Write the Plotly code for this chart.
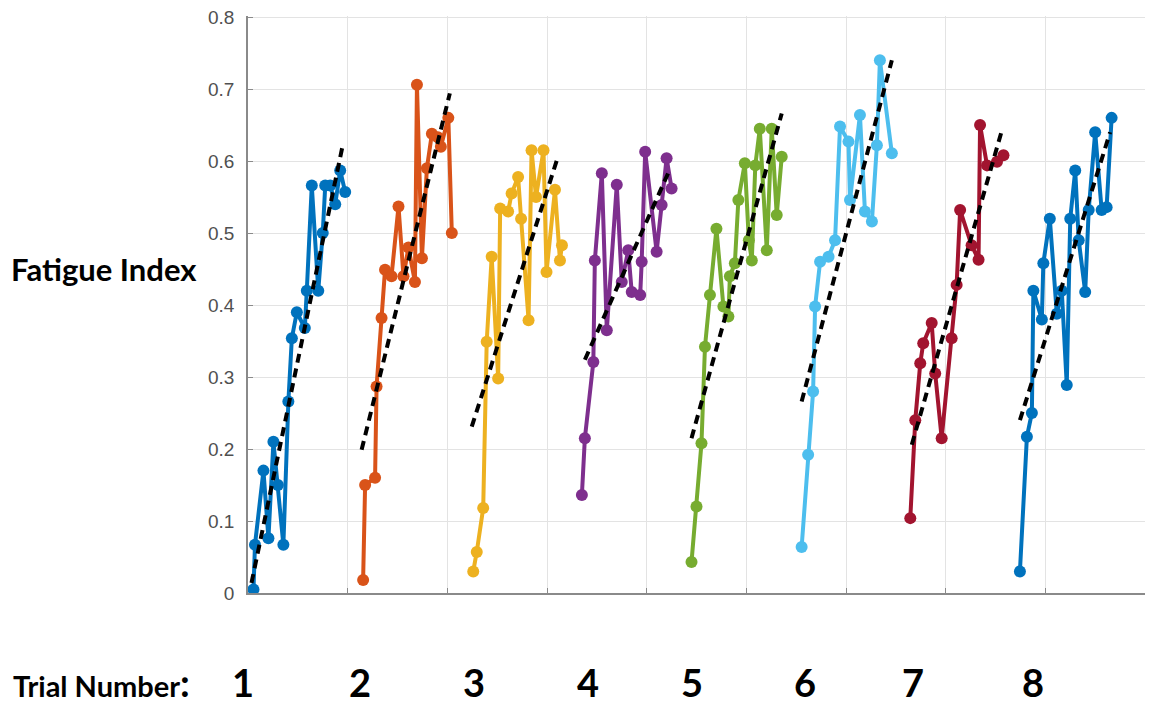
import plotly.graph_objects as go

# ---- data (x = sample number, y = fatigue index) ----
t1_x = [1.1, 1.4, 3.1, 4.1, 5.1, 6.0, 7.1, 8.1, 8.8, 9.8, 11.4, 11.8, 12.8, 14.1, 15.0, 15.5, 16.5, 17.5, 18.5, 19.5]
t1_y = [0.005, 0.067, 0.17, 0.076, 0.21, 0.15, 0.067, 0.266, 0.354, 0.39, 0.368, 0.42, 0.566, 0.42, 0.50, 0.566, 0.566, 0.54, 0.587, 0.557]

t2_x = [23.1, 23.5, 25.5, 25.8, 26.8, 27.5, 28.8, 30.2, 31.2, 32.2, 33.5, 33.9, 34.9, 35.9, 36.9, 38.1, 38.7, 40.2, 40.9]
t2_y = [0.018, 0.15, 0.16, 0.287, 0.382, 0.449, 0.44, 0.537, 0.44, 0.48, 0.432, 0.706, 0.465, 0.59, 0.638, 0.633, 0.62, 0.66, 0.50]

t3_x = [45.2, 45.9, 47.2, 47.9, 48.9, 50.2, 50.6, 52.2, 52.9, 54.2, 54.8, 56.3, 56.9, 57.8, 59.3, 59.9, 61.6, 62.6, 63.0]
t3_y = [0.03, 0.057, 0.118, 0.349, 0.467, 0.298, 0.534, 0.53, 0.555, 0.578, 0.52, 0.379, 0.615, 0.55, 0.615, 0.446, 0.56, 0.462, 0.483]

t4_x = [67.0, 67.6, 69.3, 69.6, 71.0, 72.0, 74.0, 75.0, 76.3, 77.0, 78.7, 79.0, 79.7, 82.0, 83.0, 84.0, 85.0]
t4_y = [0.136, 0.215, 0.321, 0.462, 0.583, 0.365, 0.567, 0.432, 0.476, 0.418, 0.414, 0.46, 0.613, 0.474, 0.539, 0.604, 0.562]

t5_x = [89.0, 90.0, 91.0, 91.7, 92.7, 94.0, 95.4, 96.4, 96.7, 97.7, 98.4, 99.7, 100.5, 101.1, 101.8, 102.7, 104.1, 105.1, 106.1, 107.1]
t5_y = [0.043, 0.12, 0.208, 0.342, 0.414, 0.506, 0.398, 0.384, 0.44, 0.458, 0.546, 0.597, 0.49, 0.462, 0.594, 0.645, 0.476, 0.645, 0.525, 0.606]

t6_x = [111.1, 112.4, 113.4, 113.8, 114.8, 116.5, 117.8, 118.8, 120.5, 120.8, 122.8, 123.8, 125.2, 126.2, 126.8, 129.2]
t6_y = [0.064, 0.192, 0.28, 0.398, 0.46, 0.467, 0.49, 0.648, 0.627, 0.546, 0.664, 0.53, 0.516, 0.622, 0.74, 0.611]

t7_x = [132.9, 133.9, 134.9, 135.5, 137.2, 137.9, 139.2, 141.2, 142.2, 142.9, 145.2, 146.6, 146.9, 148.3, 150.3, 151.6]
t7_y = [0.104, 0.24, 0.319, 0.347, 0.375, 0.305, 0.215, 0.354, 0.428, 0.532, 0.483, 0.463, 0.65, 0.594, 0.599, 0.608]

t8_x = [154.9, 156.3, 157.3, 157.6, 159.3, 159.6, 160.9, 162.3, 163.3, 164.3, 165.0, 166.0, 166.7, 168.0, 168.7, 170.0, 171.3, 172.3, 173.3]
t8_y = [0.03, 0.217, 0.25, 0.42, 0.38, 0.458, 0.52, 0.388, 0.42, 0.289, 0.52, 0.587, 0.49, 0.418, 0.532, 0.64, 0.532, 0.536, 0.66]

# trend line end points per trial: (x0, y0, x1, y1)
trend_x0 = [0.7, 22.8, 44.9, 67.6, 89.0, 111.1, 133.2, 154.9]
trend_y0 = [0.014, 0.199, 0.231, 0.324, 0.215, 0.266, 0.206, 0.24]
trend_x1 = [19.1, 40.5, 62.2, 84.3, 107.1, 129.2, 151.3, 173.0]
trend_y1 = [0.625, 0.694, 0.606, 0.583, 0.666, 0.74, 0.643, 0.64]

trial_labels = ["1", "2", "3", "4", "5", "6", "7", "8"]
trial_label_x = [-1.0, 22.5, 45.4, 68.2, 89.1, 111.8, 133.5, 157.5]

y_tick_vals = [0, 0.1, 0.2, 0.3, 0.4, 0.5, 0.6, 0.7, 0.8]
y_tick_text = ["0", "0.1", "0.2", "0.3", "0.4", "0.5", "0.6", "0.7", "0.8"]
x_tick_vals = [0, 20, 40, 60, 80, 100, 120, 140, 160, 180]
X_MAX = 180
Y_MAX = 0.8015

colors = ["#0072BD", "#D95319", "#EDB120", "#7E2F8E", "#77AC30", "#4DBEEE", "#A2142F", "#0072BD"]

xs = [t1_x, t2_x, t3_x, t4_x, t5_x, t6_x, t7_x, t8_x]
ys = [t1_y, t2_y, t3_y, t4_y, t5_y, t6_y, t7_y, t8_y]

fig = go.Figure()
for i in range(8):
    fig.add_trace(go.Scatter(
        x=xs[i], y=ys[i], mode="lines+markers",
        line=dict(color=colors[i], width=4),
        marker=dict(color=colors[i], size=12, symbol="circle"),
        showlegend=False, hoverinfo="x+y"))
for i in range(8):
    fig.add_trace(go.Scatter(
        x=[trend_x0[i], trend_x1[i]], y=[trend_y0[i], trend_y1[i]], mode="lines",
        line=dict(color="black", width=4, dash="9px,6px"),
        showlegend=False, hoverinfo="skip"))

# the page adds an 8px body margin, so the figure is offset by (8, 8);
# plot area lands at x 248..1145, y 16..593 like the reference
PLOT_W = 897.0
annotations = [
    dict(text="<b>Fatigue Index</b>", xref="paper", yref="paper",
         x=-239 / PLOT_W, y=0.5608, xanchor="left", yanchor="middle", showarrow=False,
         font=dict(family="Lato", size=31, color="black")),
    dict(text="<b>Trial Number<span style='font-size:38px'>:</span></b>", xref="paper", yref="paper",
         x=-237 / PLOT_W, y=-0.155, xanchor="left", yanchor="middle", showarrow=False,
         font=dict(family="Lato", size=29, color="black")),
]
for lbl, lx in zip(trial_labels, trial_label_x):
    annotations.append(dict(text="<b>" + lbl + "</b>", xref="paper", yref="paper",
                            x=lx / X_MAX, y=-0.155, xanchor="center", yanchor="middle",
                            showarrow=False,
                            font=dict(family="Lato", size=38, color="black")))

fig.update_layout(
    width=1145, height=697,
    margin=dict(l=240, r=8, t=8, b=112),
    paper_bgcolor="white", plot_bgcolor="white",
    annotations=annotations,
    xaxis=dict(range=[0, X_MAX], tickvals=x_tick_vals, showticklabels=False,
               showgrid=True, gridcolor="#e3e3e3", gridwidth=1.2,
               showline=True, linecolor="#8a8a8a", linewidth=1.5, automargin=False,
               ticks="inside", ticklen=5, tickcolor="#8a8a8a", zeroline=False),
    yaxis=dict(range=[0, Y_MAX], tickvals=y_tick_vals, ticktext=y_tick_text,
               showgrid=True, gridcolor="#e3e3e3", gridwidth=1.2,
               showline=True, linecolor="#8a8a8a", linewidth=1.5, automargin=False,
               ticks="inside", ticklen=5, tickcolor="#8a8a8a", zeroline=False,
               ticklabelstandoff=8, ticklabeloverflow="allow",
               tickfont=dict(family="Liberation Sans", size=19, color="#505050")),
)

fig.write_html("out.html")
